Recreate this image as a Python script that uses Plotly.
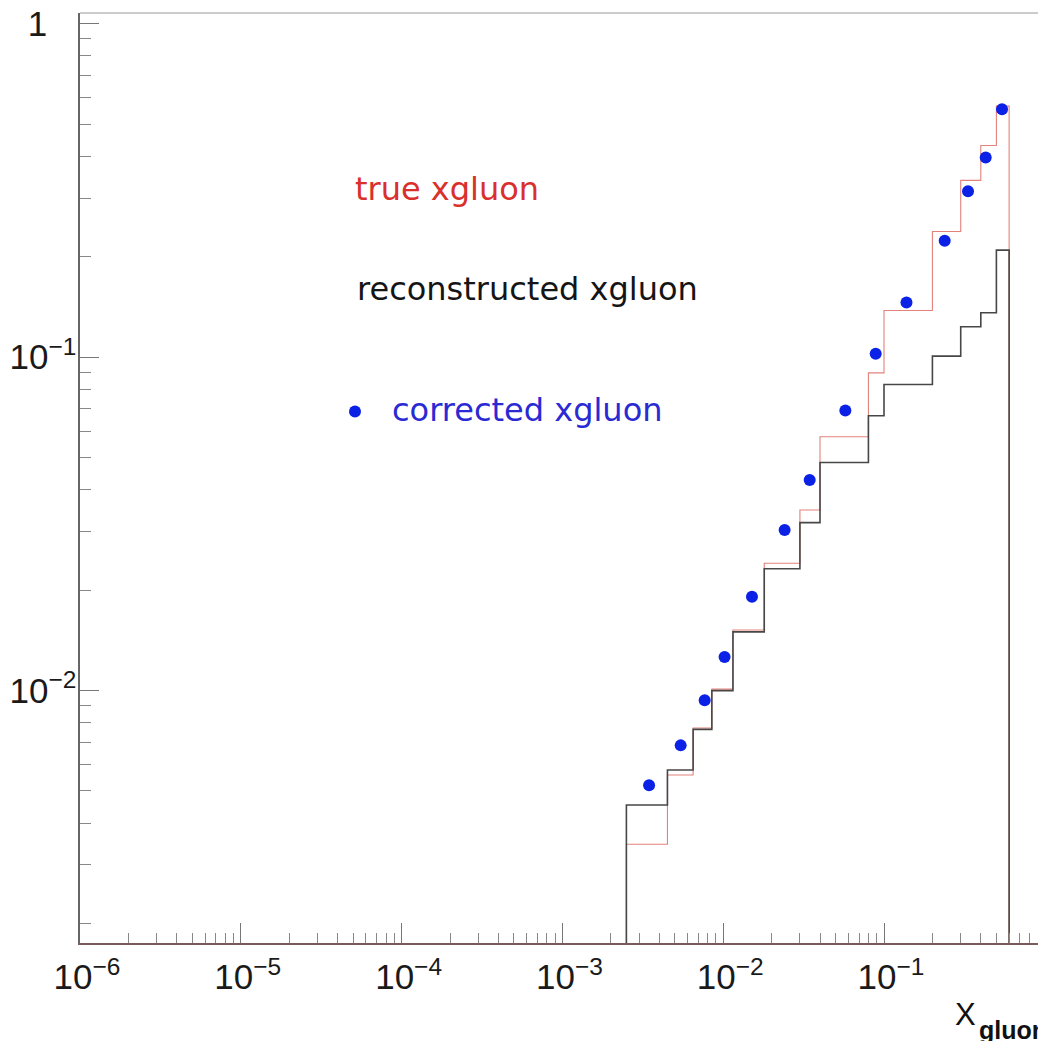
import plotly.graph_objects as go

# Bin edges of the x_gluon histograms (log-spaced display, variable binning)
bin_edges = [0.0025, 0.0045, 0.0065, 0.0085, 0.0115, 0.018, 0.03, 0.04,
             0.08, 0.1, 0.2, 0.3, 0.4, 0.5, 0.6]

# Bin contents
true_vals = [0.00346, 0.00558, 0.00772, 0.0101, 0.0152, 0.0241, 0.0348,
             0.0577, 0.0897, 0.138, 0.238, 0.339, 0.431, 0.566]
reco_vals = [0.00454, 0.00578, 0.00765, 0.0100, 0.0150, 0.0232, 0.0319,
             0.0483, 0.0667, 0.0828, 0.1007, 0.1233, 0.1358, 0.2093]

# Corrected points
corr_x = [0.00346, 0.00544, 0.00767, 0.0102, 0.0151, 0.0241, 0.0345,
          0.0575, 0.0888, 0.138, 0.2385, 0.333, 0.429, 0.542]
corr_y = [0.0052, 0.00685, 0.00935, 0.0126, 0.0191, 0.0303, 0.0428,
          0.0692, 0.1023, 0.1459, 0.2232, 0.3146, 0.3971, 0.5542]

legend_labels = ["true xgluon", "reconstructed xgluon", "corrected xgluon"]

Y_FLOOR = 1e-3  # below the visible range, so outlines drop to the axis


def step_outline(edges, vals):
    xs, ys = [edges[0]], [Y_FLOOR]
    for i, v in enumerate(vals):
        xs += [edges[i], edges[i + 1]]
        ys += [v, v]
    xs.append(edges[-1])
    ys.append(Y_FLOOR)
    return xs, ys


fig = go.Figure()

tx, ty = step_outline(bin_edges, true_vals)
fig.add_trace(go.Scatter(x=tx, y=ty, mode="lines",
                         line=dict(color="#e2827a", width=1.1),
                         showlegend=False, hoverinfo="skip"))

rx, ry = step_outline(bin_edges, reco_vals)
fig.add_trace(go.Scatter(x=rx, y=ry, mode="lines",
                         line=dict(color="#474747", width=1.6),
                         showlegend=False, hoverinfo="skip"))

fig.add_trace(go.Scatter(x=corr_x, y=corr_y, mode="markers",
                         marker=dict(color="#0b22e6", size=12, line=dict(width=0)),
                         showlegend=False))

W, H = 1038, 1041
L, R, T, B = 80, 0, 13, 98
pw, ph = W - L - R, H - T - B


def px(x):
    return (x - L) / pw


def py(y):
    return (H - B - y) / ph


text_font = dict(family="DejaVu Sans", size=32)
fig.add_annotation(text=legend_labels[0], x=px(353), y=py(189), xref="paper", yref="paper",
                   xanchor="left", yanchor="middle", showarrow=False,
                   font=dict(text_font, color="#d9302c"))
fig.add_annotation(text=legend_labels[1], x=px(355), y=py(289), xref="paper", yref="paper",
                   xanchor="left", yanchor="middle", showarrow=False,
                   font=dict(text_font, color="#151515"))
fig.add_annotation(text=legend_labels[2], x=px(390), y=py(410), xref="paper", yref="paper",
                   xanchor="left", yanchor="middle", showarrow=False,
                   font=dict(text_font, color="#2a2ad4"))
fig.add_shape(type="circle", xref="paper", yref="paper",
              xsizemode="pixel", ysizemode="pixel",
              xanchor=px(355), yanchor=py(411.5), x0=-6, x1=6, y0=-6, y1=6,
              fillcolor="#0b22e6", line=dict(width=0))

# axis title: X with a full-size subscript, running past the right edge
fig.add_annotation(text="X", x=px(953), y=py(1014), xref="paper", yref="paper",
                   xanchor="left", yanchor="middle", showarrow=False,
                   font=dict(family="Liberation Sans", size=31, color="#111"))
fig.add_annotation(text="<b>gluon</b>", x=px(977), y=py(1030), xref="paper", yref="paper",
                   xanchor="left", yanchor="middle", showarrow=False,
                   font=dict(family="Liberation Sans", size=25, color="#111"))

axis_font = dict(family="Liberation Sans", size=28, color="#1a1a1a")

fig.update_xaxes(type="log", range=[-6, -6 + pw / 160.8],
                 dtick=1, exponentformat="power",
                 ticks="inside", ticklen=20, tickwidth=1, tickcolor="#777",
                 minor=dict(ticks="inside", ticklen=10, tickwidth=1, tickcolor="#888", dtick="D1"),
                 showline=True, linecolor="#7a5a5a", linewidth=1.5, mirror=False,
                 showgrid=False, zeroline=False, tickfont=axis_font,
                 ticklabelshift=7, ticklabelstandoff=4)
fig.update_yaxes(type="log", range=[-2.757, 0.032],
                 dtick=1, exponentformat="power",
                 labelalias={"1": "1&nbsp;&nbsp;&nbsp;"},
                 ticks="inside", ticklen=19, tickwidth=1, tickcolor="#777",
                 minor=dict(ticks="inside", ticklen=11, tickwidth=1, tickcolor="#888", dtick="D1"),
                 showline=True, linecolor="#666", linewidth=2, mirror=False,
                 showgrid=False, zeroline=False, tickfont=axis_font,
                 ticklabelstandoff=-4)

# top frame line
fig.add_shape(type="line", xref="paper", yref="paper", x0=0, x1=1, y0=1, y1=1,
              line=dict(color="#999", width=1.2))

fig.update_layout(width=W, height=H, margin=dict(l=L, r=R, t=T, b=B, autoexpand=False),
                  paper_bgcolor="white", plot_bgcolor="white")

fig.write_html("out.html")
